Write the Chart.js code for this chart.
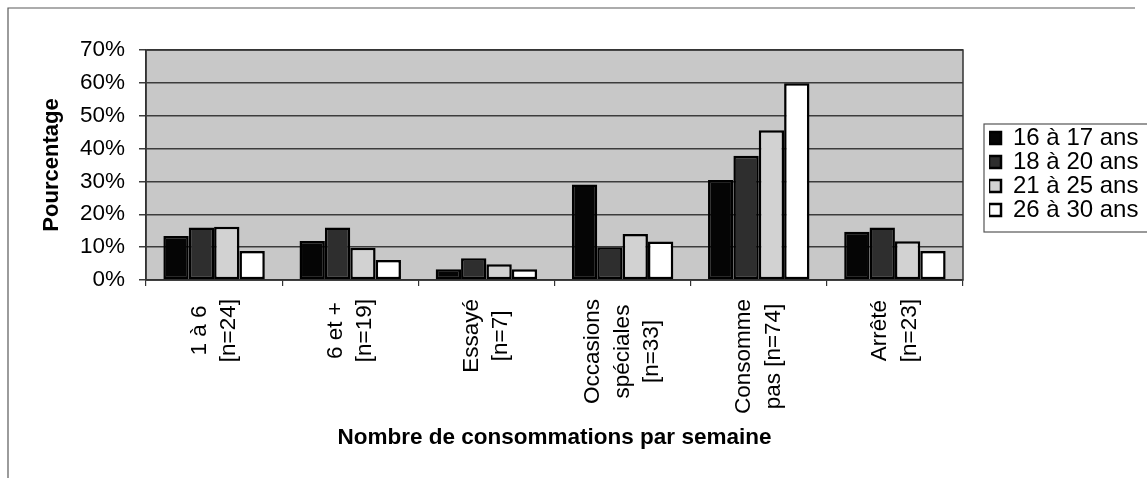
<!DOCTYPE html>
<html>
<head>
<meta charset="utf-8">
<script src="https://cdn.jsdelivr.net/npm/chart.js@4.4.1/dist/chart.umd.min.js"></script>
<style>
  html, body { margin: 0; padding: 0; background: #ffffff; }
  canvas { display: block; }
</style>
</head>
<body>
<canvas id="chart" width="1147" height="478"></canvas>
<script>
// Categories (multi-line labels, drawn rotated under the x axis)
const categories = [
  ['1 à 6', '[n=24]'],
  ['6 et +', '[n=19]'],
  ['Essayé', '[n=7]'],
  ['Occasions', 'spéciales', '[n=33]'],
  ['Consomme', 'pas [n=74]'],
  ['Arrêté', '[n=23]']
];

// Age groups (series names)
const ageGroups = ['16 à 17 ans', '18 à 20 ans', '21 à 25 ans', '26 à 30 ans'];

// Percentages per category, one array per age group
const pct16to17 = [13.4, 11.9, 3.3, 29.1, 30.4, 14.7];
const pct18to20 = [16.0, 16.0, 6.6, 10.0, 37.8, 16.0];
const pct21to25 = [16.2, 9.8, 4.8, 14.0, 45.6, 11.8];
const pct26to30 = [8.8, 6.1, 3.3, 11.7, 59.9, 8.8];

// Y axis ticks (percent)
const yTicks = [0, 10, 20, 30, 40, 50, 60, 70];

const seriesValues = [pct16to17, pct18to20, pct21to25, pct26to30];
const seriesFills = ['#050505', '#2e2e2e', '#d2d2d2', '#ffffff'];

const FONT = "'Liberation Sans', Arial, Helvetica, sans-serif";

// Page frame, plot background and plot border
const framePlugin = {
  id: 'frame',
  beforeDraw(chart) {
    const { ctx, chartArea: a, width, height } = chart;
    ctx.save();
    ctx.fillStyle = '#ffffff';
    ctx.fillRect(0, 0, width, height);
    ctx.strokeStyle = '#5a5a5a';
    ctx.lineWidth = 1.2;
    ctx.beginPath();
    ctx.moveTo(8, height);
    ctx.lineTo(8, 8);
    ctx.lineTo(width - 12, 8);
    ctx.stroke();
    ctx.fillStyle = '#c8c8c8';
    ctx.fillRect(a.left, a.top, a.right - a.left, a.bottom - a.top);
    ctx.restore();
  },
  beforeDatasetsDraw(chart) {
    const { ctx, chartArea: a } = chart;
    ctx.save();
    ctx.strokeStyle = '#333333';
    ctx.lineWidth = 1.5;
    ctx.strokeRect(a.left, a.top, a.right - a.left, a.bottom - a.top);
    ctx.restore();
  }
};

// Category labels: rotated, lines centred on each other, block hanging below the axis
const categoryLabelPlugin = {
  id: 'categoryLabels',
  afterDraw(chart) {
    const { ctx } = chart;
    const xs = chart.scales.x;
    const size = 22.5;
    const lineH = 29.5;
    ctx.save();
    ctx.font = size + 'px ' + FONT;
    ctx.fillStyle = '#000000';
    ctx.textAlign = 'center';
    ctx.textBaseline = 'middle';
    chart.data.labels.forEach((lines, i) => {
      const x = xs.getPixelForValue(i);
      const maxW = Math.max(...lines.map(l => ctx.measureText(l).width));
      ctx.save();
      ctx.translate(x, xs.top + 19);
      ctx.rotate(-Math.PI / 2);
      lines.forEach((line, j) => {
        const off = (j - (lines.length - 1) / 2) * lineH;
        ctx.fillText(line, -maxW / 2, off);
      });
      ctx.restore();
    });
    ctx.restore();
  }
};

// Legend placement beside the plot and its frame
const legendFramePlugin = {
  id: 'legendFrame',
  afterLayout(chart) {
    const lg = chart.legend;
    if (!lg) return;
    const dx = chart.chartArea.right + 26 - lg.left;
    lg.left += dx; lg.right += dx;
    const newTop = chart.chartArea.top + 76;
    const dy = newTop - lg.top;
    lg.top += dy; lg.bottom += dy;
  },
  afterDraw(chart) {
    const lg = chart.legend;
    if (!lg || !lg.legendHitBoxes || !lg.legendHitBoxes.length) return;
    const hb = lg.legendHitBoxes;
    const left = Math.min(...hb.map(h => h.left)) - 5;
    const top = hb[0].top - 2;
    const bottom = hb[hb.length - 1].top + hb[hb.length - 1].height + 10;
    const { ctx } = chart;
    ctx.save();
    ctx.strokeStyle = '#555555';
    ctx.lineWidth = 1.2;
    ctx.strokeRect(left, top, chart.width + 10 - left, bottom - top);
    ctx.restore();
  }
};

const chart = new Chart(document.getElementById('chart'), {
  type: 'bar',
  data: {
    labels: categories,
    datasets: ageGroups.map((name, k) => ({
      label: name,
      data: seriesValues[k],
      backgroundColor: seriesFills[k],
      borderColor: '#000000',
      borderWidth: 2.5,
      borderSkipped: false,
      categoryPercentage: 0.745,
      barPercentage: 1.0
    }))
  },
  options: {
    responsive: false,
    devicePixelRatio: 1,
    animation: false,
    layout: { padding: { top: 50, left: 0, bottom: 0, right: 38 } },
    plugins: {
      tooltip: { enabled: false },
      legend: {
        display: true,
        position: 'right',
        align: 'start',
        fullSize: false,
        labels: {
          boxWidth: 12,
          boxHeight: 12,
          padding: 0,
          color: '#000000',
          font: { family: FONT, size: 24 }
        }
      }
    },
    scales: {
      x: {
        offset: true,
        grid: {
          offset: true,
          display: true,
          drawOnChartArea: false,
          drawTicks: true,
          tickLength: 6,
          color: '#333333',
          lineWidth: 1.2
        },
        border: { display: true, color: '#333333', width: 1.5 },
        ticks: { display: false },
        title: {
          display: true,
          text: 'Nombre de consommations par semaine',
          color: '#000000',
          font: { family: FONT, size: 22.5, weight: 'bold' },
          padding: { top: 0, bottom: 27 }
        },
        afterFit(scale) { scale.height = 198; }
      },
      y: {
        min: 0,
        max: 70,
        afterBuildTicks(scale) { scale.ticks = yTicks.map(v => ({ value: v })); },
        grid: {
          color: '#3c3c3c',
          lineWidth: 1.5,
          drawTicks: true,
          tickLength: 7
        },
        border: { display: true, color: '#333333', width: 1.5 },
        ticks: {
          padding: 14,
          color: '#000000',
          font: { family: FONT, size: 22.5 },
          callback: v => v + '%'
        },
        title: {
          display: true,
          text: 'Pourcentage',
          color: '#000000',
          font: { family: FONT, size: 22, weight: 'bold' },
          padding: { top: 39, bottom: 0 }
        },
        afterFit(scale) { scale.width = 146; }
      }
    }
  },
  plugins: [framePlugin, categoryLabelPlugin, legendFramePlugin]
});

// Keep the plot's right edge fixed regardless of the measured legend width
chart.options.layout.padding.right = Math.max(0, 184 - chart.legend.width);
chart.update('none');
</script>
</body>
</html>
